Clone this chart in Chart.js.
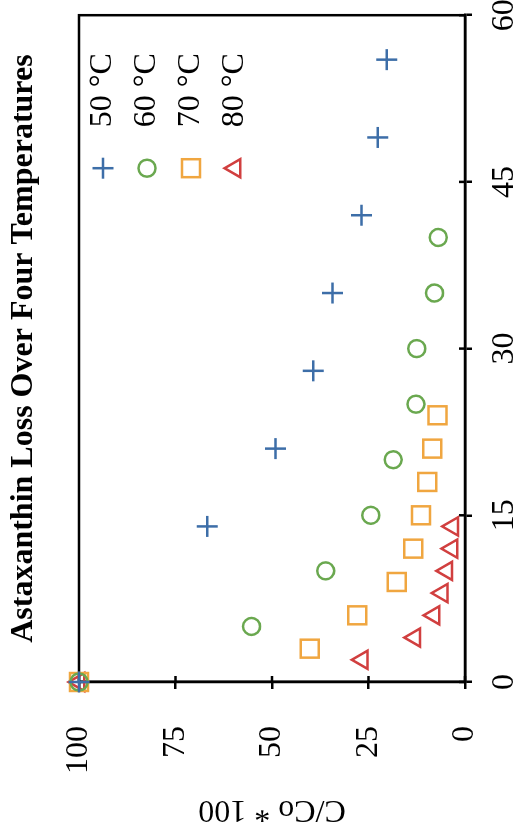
<!DOCTYPE html>
<html lang="en">

<head>
	<meta charset="UTF-8" />
	<meta name="viewport" content="width=device-width, initial-scale=1.0" />
	<title>Astaxanthin Loss Over Four Temperatures</title>
	<script src="https://cdn.jsdelivr.net/npm/chart.js@4"></script>
	<style>
		html, body { margin: 0; padding: 0; background: #fff; overflow: hidden; }
		/* the chart is drawn landscape and turned a quarter left */
		#wrap {
			position: absolute; left: 0; top: 0;
			width: 836px; height: 523px;
			transform-origin: 0 0;
			transform: translate(0, 836px) rotate(-90deg);
		}
	</style>
</head>

<body>
	<div id="wrap"><canvas id="chart" width="836" height="523"></canvas></div>
	<script>
		const days50 = [0, 14, 21, 28, 35, 42, 49, 56];
		const c50 = [100, 66.8, 49.1, 39.3, 34.3, 26.8, 22.6, 20.3];

		const days60 = [0, 5, 10, 15, 20, 25, 30, 35, 40];
		const c60 = [100, 55.3, 36.1, 24.4, 18.6, 12.7, 12.5, 7.9, 6.9];

		const days70 = [0, 3, 6, 9, 12, 15, 18, 21, 24];
		const c70 = [100, 40.2, 27.9, 17.7, 13.4, 11.4, 9.8, 8.5, 7.1];

		const days80 = [0, 2, 4, 6, 8, 10, 12, 14];
		const c80 = [100, 26.6, 13.0, 8.0, 5.9, 4.7, 3.4, 3.2];

		const seriesLabels = ['50 °C', '60 °C', '70 °C', '80 °C'];
		const xTicks = [0, 15, 30, 45, 60];
		const yTicks = [0, 25, 50, 75, 100];

		const SERIF = "'Liberation Serif', 'Times New Roman', serif";
		const AXIS_W = 2.5;

		function points(xs, ys) {
			return xs.map((x, i) => ({ x: x, y: ys[i] }));
		}

		function series(label, data, color, style, radius) {
			return {
				label: label,
				data: data,
				pointStyle: style,
				pointRadius: radius,
				pointHoverRadius: radius,
				borderColor: color,
				backgroundColor: 'rgba(0,0,0,0)',
				borderWidth: 2.5,
				showLine: false,
				clip: false,
			};
		}

		// closed frame plus small tick stubs pointing into the plot
		const frame = {
			id: 'frame',
			beforeDatasetsDraw(chart) {
				const { ctx, chartArea: a, scales } = chart;
				ctx.save();
				ctx.strokeStyle = '#000';
				ctx.lineWidth = AXIS_W;
				ctx.strokeRect(a.left, a.top, a.right - a.left, a.bottom - a.top);
				ctx.beginPath();
				scales.x.ticks.forEach((t, i) => {
					const px = scales.x.getPixelForTick(i);
					ctx.moveTo(px, a.bottom);
					ctx.lineTo(px, a.bottom - 6);
				});
				scales.y.ticks.forEach((t, i) => {
					const py = scales.y.getPixelForTick(i);
					ctx.moveTo(a.left, py);
					ctx.lineTo(a.left + 6, py);
				});
				ctx.stroke();
				ctx.restore();
			}
		};

		// legend sits inside the plot, top right, one row per series
		const insideLegend = {
			id: 'insideLegend',
			afterDatasetsDraw(chart) {
				const { ctx, chartArea: a } = chart;
				ctx.save();
				chart.data.datasets.forEach((ds, i) => {
					const y = a.top + 24 + i * 44;
					ctx.strokeStyle = ds.borderColor;
					ctx.fillStyle = 'rgba(0,0,0,0)';
					ctx.lineWidth = ds.borderWidth;
					Chart.helpers.drawPoint(ctx, {
						pointStyle: ds.pointStyle,
						radius: ds.pointRadius,
						rotation: 0,
						borderWidth: ds.borderWidth
					}, a.right - 153, y);
					ctx.fillStyle = '#000';
					ctx.font = '32px ' + SERIF;
					ctx.textAlign = 'left';
					ctx.textBaseline = 'middle';
					ctx.fillText(ds.label, a.right - 112, y);
				});
				ctx.restore();
			}
		};

		const tickFont = { family: SERIF, size: 32 };

		new Chart(document.getElementById('chart'), {
			type: 'scatter',
			data: {
				datasets: [
					series(seriesLabels[0], points(days50, c50), '#3d6ea8', 'cross', 10.5),
					series(seriesLabels[1], points(days60, c60), '#6aa84f', 'circle', 8.5),
					series(seriesLabels[2], points(days70, c70), '#f0a640', 'rect', 12.7),
					series(seriesLabels[3], points(days80, c80), '#d13f3f', 'triangle', 10.5),
				]
			},
			options: {
				responsive: false,
				devicePixelRatio: 1,
				animation: false,
				layout: { padding: 0 },
				plugins: {
					legend: { display: false },
					tooltip: { enabled: false },
					title: {
						display: true,
						fullSize: false,
						text: 'Astaxanthin Loss Over Four Temperatures',
						color: '#000',
						font: { family: SERIF, size: 32, weight: 'bold' },
						padding: { top: 5, bottom: 35.6 }
					}
				},
				scales: {
					x: {
						type: 'linear',
						min: xTicks[0],
						max: xTicks[xTicks.length - 1],
						afterBuildTicks: scale => { scale.ticks = xTicks.map(v => ({ value: v })); },
						afterFit: scale => { scale.height = 58; scale.paddingRight = 15; },
						ticks: { color: '#000', font: tickFont, padding: 13.6, maxRotation: 0 },
						grid: { drawOnChartArea: false, color: '#000', lineWidth: AXIS_W, tickLength: 7 },
						border: { color: '#000', width: AXIS_W }
					},
					y: {
						type: 'linear',
						min: yTicks[0],
						max: yTicks[yTicks.length - 1],
						afterBuildTicks: scale => { scale.ticks = yTicks.map(v => ({ value: v })); },
						afterFit: scale => { scale.width = 154; },
						ticks: { color: '#000', font: tickFont, padding: 37 },
						grid: { drawOnChartArea: false, color: '#000', lineWidth: AXIS_W, tickLength: 7 },
						border: { color: '#000', width: AXIS_W },
						title: {
							display: true,
							text: 'C/Co * 100',
							color: '#000',
							font: { family: SERIF, size: 32 },
							padding: { top: 7.8, bottom: 15.8 }
						}
					}
				}
			},
			plugins: [frame, insideLegend]
		});
	</script>
</body>

</html>
